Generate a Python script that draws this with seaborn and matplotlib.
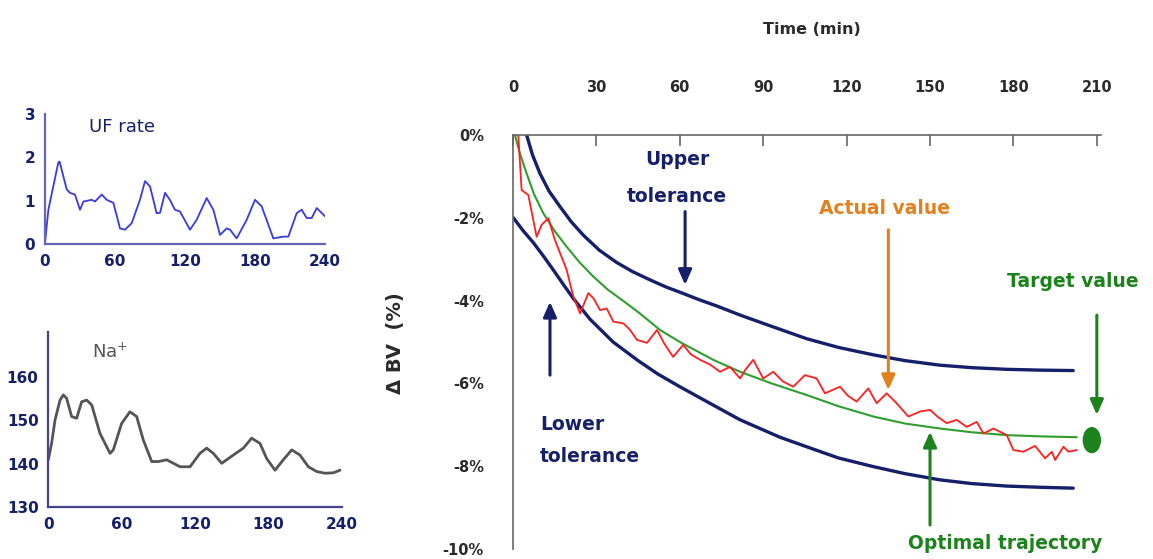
import numpy as np
import pandas as pd
import matplotlib
matplotlib.use("Agg")
import matplotlib.pyplot as plt
from matplotlib.patches import Ellipse
import seaborn as sns

# ---- data ----
uf_t = [0, 2.9, 7.1, 11.4, 12.5, 18.6, 21.4, 25.7, 30, 32.9, 40, 42.9, 48.6, 52.9, 58.6, 64.3, 68.6,
        74.3, 81.4, 85.7, 90, 95.7, 98.6, 102.9, 107, 111.4, 115.7, 124.3, 130, 138.6, 144.3, 150,
        155.7, 158.6, 164.3, 172.9, 180, 185.7, 195.7, 204.3, 208.6, 215.7, 220, 224.3, 228.6, 232.9, 240]
uf_rate = [0.03, 0.79, 1.33, 1.88, 1.9, 1.26, 1.18, 1.14, 0.79, 0.98, 1.02, 0.98, 1.14, 1.02, 0.95, 0.36, 0.33,
           0.48, 1.02, 1.45, 1.33, 0.71, 0.72, 1.18, 1.02, 0.79, 0.75, 0.33, 0.56, 1.06, 0.79, 0.21,
           0.36, 0.33, 0.13, 0.56, 1.02, 0.87, 0.13, 0.17, 0.17, 0.71, 0.79, 0.6, 0.6, 0.83, 0.64]

na_t = [0, 2.7, 5.5, 9.6, 12.3, 15, 19.1, 23.2, 27.3, 31.4, 35.5, 42.3, 50.5, 53.2, 60, 66.8, 72.3,
        77.7, 84.6, 90, 96.9, 107.8, 116, 124.1, 129.6, 135, 141.9, 151.4, 159.6, 166.4, 173.2,
        178.7, 185.5, 192.3, 199.2, 205.9, 212.8, 219.6, 226.4, 233.2, 238.7]
na_val = [140.9, 144.7, 150.1, 154.7, 155.9, 155.1, 150.9, 150.5, 154.3, 154.7, 153.6, 147, 142.4, 143.2,
          149.3, 152, 150.9, 145.5, 140.5, 140.5, 140.9, 139.3, 139.3, 142.4, 143.6, 142.4, 140.1, 142,
          143.6, 145.9, 144.7, 141.2, 138.5, 140.9, 143.2, 142, 139.3, 138.2, 137.8, 137.9, 138.5]

upper_t = [4.9, 7, 9.7, 13, 16.9, 21, 25.3, 31, 37.3, 43, 49.3, 55, 61.3, 67, 73.3, 81.7, 90, 98,
           105.6, 117, 129.6, 141, 153.6, 165, 177.6, 190, 201.5]
upper_v = [0, -0.48, -0.93, -1.36, -1.73, -2.1, -2.42, -2.78, -3.08, -3.3, -3.5, -3.67, -3.83, -3.98,
           -4.13, -4.35, -4.55, -4.74, -4.92, -5.13, -5.31, -5.45, -5.56, -5.62, -5.66, -5.68, -5.69]

lower_t = [0, 3.5, 7.3, 11, 14.5, 18, 21.7, 27.7, 36, 45, 52, 60, 70, 81.7, 96, 105.6, 117, 129.6,
           141, 153.6, 165, 177.6, 190, 201.5]
lower_v = [-1.99, -2.3, -2.6, -2.93, -3.26, -3.6, -3.95, -4.45, -5.0, -5.45, -5.77, -6.08, -6.45,
           -6.88, -7.3, -7.53, -7.8, -8.01, -8.18, -8.33, -8.42, -8.48, -8.51, -8.53]

optimal_t = [0.7, 2.5, 4.9, 7.5, 10.9, 15, 19.3, 24, 28.9, 34, 40.9, 46, 52.9, 60, 67, 72, 81.7, 93,
             105.6, 117, 129.6, 141, 153.6, 165, 177.6, 190, 202.8]
optimal_v = [0, -0.45, -0.93, -1.42, -1.89, -2.32, -2.7, -3.08, -3.42, -3.73, -4.07, -4.33, -4.71,
             -5.0, -5.25, -5.43, -5.72, -6.0, -6.28, -6.55, -6.8, -6.97, -7.09, -7.18, -7.25, -7.28, -7.3]

actual_t = [1.9, 3.1, 5.5, 8.5, 10.3, 12.7, 15.1, 19.3, 21.7, 24.1, 27.1, 29, 31.3, 33.7, 36.1, 39.7,
            42, 44.6, 48.2, 51.8, 54.5, 57.6, 61.2, 64, 67.3, 71, 74.5, 78, 81.7, 83.5, 86.4, 90, 93.6,
            97, 100.8, 105, 109.2, 112.2, 117.6, 120.5, 123.6, 127.8, 130.8, 134.4, 138, 142.2, 146.4,
            150, 153, 156, 159.6, 163.2, 166.8, 169.2, 172.8, 177.6, 180, 183.6, 187.8, 191.4, 193.8,
            195, 198, 199.8, 202.8]
actual_v = [0, -1.33, -1.45, -2.46, -2.17, -2.01, -2.54, -3.26, -3.9, -4.31, -3.82, -3.95, -4.23, -4.19,
            -4.51, -4.55, -4.7, -4.95, -5.02, -4.71, -5.05, -5.36, -5.07, -5.3, -5.43, -5.55, -5.72, -5.6,
            -5.88, -5.68, -5.43, -5.88, -5.72, -5.95, -6.08, -5.8, -5.88, -6.24, -6.08, -6.3, -6.44,
            -6.12, -6.48, -6.24, -6.48, -6.8, -6.68, -6.64, -6.82, -6.96, -6.88, -7.05, -6.93, -7.21,
            -7.09, -7.25, -7.61, -7.65, -7.51, -7.81, -7.65, -7.85, -7.53, -7.65, -7.61]

target_t, target_v = 208.2, -7.37

main_xticks = [0, 30, 60, 90, 120, 150, 180, 210]
main_yticks = [0, -2, -4, -6, -8, -10]
main_ylabels = ["0%", "-2%", "-4%", "-6%", "-8%", "-10%"]
small_xticks = [0, 60, 120, 180, 240]

# ---- style ----
sns.set_style("white")
plt.rcParams["font.family"] = ["DejaVu Sans"]
plt.rcParams["lines.solid_joinstyle"] = "round"

navy = "#16206a"
gline = "#2f9e2f"
dgreen = "#1c821c"
orange = "#e2801e"
red = "#ff1f1f"

fig = plt.figure(figsize=(11.53, 5.59), dpi=100)

# ---- UF rate panel ----
ax_uf = fig.add_axes([0.03903, 0.56351, 0.24284, 0.23256])
sns.lineplot(x=uf_t, y=uf_rate, ax=ax_uf, color="#3a3ae0", lw=1.3, estimator=None)
ax_uf.set_xlim(0, 240)
ax_uf.set_ylim(0, 3)
ax_uf.set_xticks(small_xticks)
ax_uf.set_yticks([0, 1, 2, 3])
ax_uf.text(38, 2.7, "UF rate", color=navy, fontsize=13, va="center")

# ---- Na panel ----
ax_na = fig.add_axes([0.04189, 0.09302, 0.25438, 0.3136])
sns.lineplot(x=na_t, y=na_val, ax=ax_na, color="#555555", lw=2.0, estimator=None)
ax_na.set_xlim(0, 240)
ax_na.set_ylim(130, 170.5)
ax_na.set_xticks(small_xticks)
ax_na.set_yticks([130, 140, 150, 160])
ax_na.text(36, 165.8, "Na$^{+}$", color="#555555", fontsize=13, va="center")

for ax, sc in [(ax_uf, "#6464b8"), (ax_na, "#45458f")]:
    for s in ["top", "right"]:
        ax.spines[s].set_visible(False)
    for s in ["left", "bottom"]:
        ax.spines[s].set_color(sc)
        ax.spines[s].set_linewidth(1.6)
    ax.tick_params(direction="inout", length=8, width=1.6, color=sc,
                   labelsize=11, labelcolor=navy, pad=3)
    for lab in ax.get_xticklabels() + ax.get_yticklabels():
        lab.set_fontweight("bold")
    ax.set_xlabel("")
    ax.set_ylabel("")

# ---- main panel ----
ax = fig.add_axes([0.44493, 0.01789, 0.50997, 0.74061])
sns.lineplot(x=upper_t, y=upper_v, ax=ax, color=navy, lw=2.4, estimator=None)
sns.lineplot(x=lower_t, y=lower_v, ax=ax, color=navy, lw=2.4, estimator=None)
sns.lineplot(x=optimal_t, y=optimal_v, ax=ax, color=gline, lw=1.5, estimator=None)
sns.lineplot(x=actual_t, y=actual_v, ax=ax, color=red, lw=1.3, estimator=None)
ax.add_patch(Ellipse((target_t, target_v), 6.1, 0.6, color=dgreen, clip_on=False))

ax.set_xlim(0, 211.5)
ax.set_ylim(-10, 0)
ax.xaxis.tick_top()
ax.set_xticks(main_xticks)
ax.set_yticks(main_yticks)
ax.set_yticklabels(main_ylabels)
ax.set_xlabel("")
ax.set_ylabel("")
for s in ["bottom", "right"]:
    ax.spines[s].set_visible(False)
for s in ["top", "left"]:
    ax.spines[s].set_color("#666666")
    ax.spines[s].set_linewidth(1.2)
ax.tick_params(axis="x", direction="in", length=8, width=1.2, color="#666666",
               labelsize=10.5, labelcolor="#2a2a2a", pad=29)
ax.tick_params(axis="y", direction="out", length=7, width=1.2, color="#666666",
               labelsize=10.5, labelcolor="#2a2a2a", pad=14)
for lab in ax.get_xticklabels() + ax.get_yticklabels():
    lab.set_fontweight("bold")

fig.text(812 / 1153, 1 - 30 / 559, "Time (min)", ha="center", va="center",
         fontsize=11.5, fontweight="bold", color="#2a2a2a")
fig.text(396 / 1153, 1 - 343 / 559, "Δ BV  (%)", ha="center", va="center", rotation=90,
         fontsize=14, fontweight="bold", color="#2a2a2a")

def arrow(tip, tail, color):
    ax.annotate("", xy=tip, xytext=tail, annotation_clip=False,
                arrowprops=dict(arrowstyle="-|>,head_length=0.9,head_width=0.4",
                                color=color, lw=2.2, shrinkA=0, shrinkB=0))

lab_kw = dict(fontsize=13.5, fontweight="bold", clip_on=False)
ax.text(59, -0.6, "Upper", color=navy, ha="center", va="center", **lab_kw)
ax.text(59, -1.49, "tolerance", color=navy, ha="center", va="center", **lab_kw)
arrow((61.9, -3.62), (61.9, -1.85), navy)

ax.text(9.7, -7.0, "Lower", color=navy, ha="left", va="center", **lab_kw)
ax.text(9.7, -7.77, "tolerance", color=navy, ha="left", va="center", **lab_kw)
arrow((13.3, -4.03), (13.3, -5.8), navy)

ax.text(133.8, -1.77, "Actual value", color=orange, ha="center", va="center", **lab_kw)
arrow((135, -6.16), (135, -2.29), orange)

ax.text(201.5, -3.54, "Target value", color=dgreen, ha="center", va="center", **lab_kw)
arrow((210, -6.76), (210, -4.35), dgreen)

ax.text(177, -9.86, "Optimal trajectory", color=dgreen, ha="center", va="center", **lab_kw)
arrow((150, -7.17), (150, -9.42), dgreen)

fig.savefig("out.png", dpi=100)
